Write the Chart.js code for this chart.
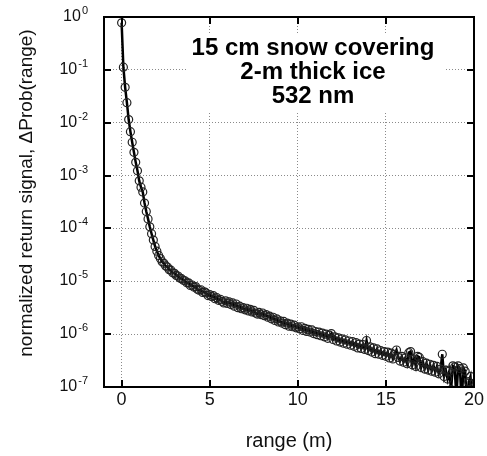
<!DOCTYPE html>
<html>
<head>
<meta charset="utf-8">
<title>return signal vs range</title>
<script src="https://cdn.jsdelivr.net/npm/chart.js@4/dist/chart.umd.min.js"></script>
<style>
  html, body { margin: 0; padding: 0; background: #fff; }
  #chart { display: block; }
</style>
</head>
<body>
<canvas id="chart" width="487" height="456"></canvas>
<script>
// range (m), one sample every 0.1 m
const range = [
  0.0, 0.1, 0.2, 0.3, 0.4, 0.5, 0.6, 0.7, 0.8, 0.9,
  1.0, 1.1, 1.2, 1.3, 1.4, 1.5, 1.6, 1.7, 1.8, 1.9,
  2.0, 2.1, 2.2, 2.3, 2.4, 2.5, 2.6, 2.7, 2.8, 2.9,
  3.0, 3.1, 3.2, 3.3, 3.4, 3.5, 3.6, 3.7, 3.8, 3.9,
  4.0, 4.1, 4.2, 4.3, 4.4, 4.5, 4.6, 4.7, 4.8, 4.9,
  5.0, 5.1, 5.2, 5.3, 5.4, 5.5, 5.6, 5.7, 5.8, 5.9,
  6.0, 6.1, 6.2, 6.3, 6.4, 6.5, 6.6, 6.7, 6.8, 6.9,
  7.0, 7.1, 7.2, 7.3, 7.4, 7.5, 7.6, 7.7, 7.8, 7.9,
  8.0, 8.1, 8.2, 8.3, 8.4, 8.5, 8.6, 8.7, 8.8, 8.9,
  9.0, 9.1, 9.2, 9.3, 9.4, 9.5, 9.6, 9.7, 9.8, 9.9,
  10.0, 10.1, 10.2, 10.3, 10.4, 10.5, 10.6, 10.7, 10.8, 10.9,
  11.0, 11.1, 11.2, 11.3, 11.4, 11.5, 11.6, 11.7, 11.8, 11.9,
  12.0, 12.1, 12.2, 12.3, 12.4, 12.5, 12.6, 12.7, 12.8, 12.9,
  13.0, 13.1, 13.2, 13.3, 13.4, 13.5, 13.6, 13.7, 13.8, 13.9,
  14.0, 14.1, 14.2, 14.3, 14.4, 14.5, 14.6, 14.7, 14.8, 14.9,
  15.0, 15.1, 15.2, 15.3, 15.4, 15.5, 15.6, 15.7, 15.8, 15.9,
  16.0, 16.1, 16.2, 16.3, 16.4, 16.5, 16.6, 16.7, 16.8, 16.9,
  17.0, 17.1, 17.2, 17.3, 17.4, 17.5, 17.6, 17.7, 17.8, 17.9,
  18.0, 18.1, 18.2, 18.3, 18.4, 18.5, 18.6, 18.7, 18.8, 18.9,
  19.0, 19.1, 19.2, 19.3, 19.4, 19.5, 19.6, 19.7, 19.8, 19.9,
  20.0
];

// log10 of the normalized return signal
const signalLog = [
  -0.11, -0.95, -1.33, -1.62, -1.94, -2.17, -2.37, -2.56, -2.75, -2.91,
  -3.10, -3.22, -3.31, -3.52, -3.68, -3.82, -3.97, -4.10, -4.22, -4.34,
  -4.43, -4.51, -4.57, -4.63, -4.66, -4.71, -4.73, -4.78, -4.79, -4.84,
  -4.85, -4.89, -4.90, -4.94, -4.95, -4.98, -4.99, -5.03, -5.03, -5.08,
  -5.07, -5.11, -5.10, -5.15, -5.17, -5.16, -5.21, -5.20, -5.22, -5.27,
  -5.25, -5.29, -5.27, -5.33, -5.31, -5.36, -5.34, -5.38, -5.41, -5.37,
  -5.42, -5.39, -5.44, -5.41, -5.47, -5.43, -5.50, -5.47, -5.52, -5.50,
  -5.54, -5.51, -5.56, -5.53, -5.58, -5.55, -5.60, -5.62, -5.59, -5.63,
  -5.60, -5.65, -5.63, -5.68, -5.66, -5.71, -5.68, -5.74, -5.71, -5.77,
  -5.75, -5.79, -5.76, -5.82, -5.79, -5.85, -5.81, -5.86, -5.83, -5.88,
  -5.86, -5.90, -5.86, -5.93, -5.89, -5.95, -5.91, -5.96, -5.92, -5.99,
  -5.95, -6.01, -5.96, -6.03, -5.98, -6.05, -6.00, -6.08, -6.02, -5.99,
  -6.10, -6.05, -6.13, -6.07, -6.15, -6.09, -6.17, -6.11, -6.19, -6.13,
  -6.21, -6.14, -6.23, -6.16, -6.26, -6.19, -6.27, -6.20, -6.29, -6.12,
  -6.31, -6.24, -6.34, -6.26, -6.37, -6.28, -6.38, -6.31, -6.40, -6.33,
  -6.42, -6.34, -6.45, -6.36, -6.47, -6.38, -6.30, -6.44, -6.51, -6.42,
  -6.53, -6.45, -6.56, -6.35, -6.33, -6.58, -6.47, -6.61, -6.42, -6.44,
  -6.63, -6.52, -6.66, -6.55, -6.68, -6.57, -6.70, -6.59, -6.72, -6.61,
  -6.75, -6.66, -6.38, -6.80, -6.68, -6.85, -6.70, -7.05, -6.60, -6.62,
  -7.20, -6.60, -6.65, -7.30, -6.64, -6.70, -7.40, -6.90, -6.80, -7.30,
  -6.93
];

const xTicks = [0, 5, 10, 15, 20];
const yExponents = [0, -1, -2, -3, -4, -5, -6, -7];
const titleLines = ['15 cm snow covering', '2-m thick ice', '532 nm'];

const FONT = '"Liberation Sans", Arial, Helvetica, sans-serif';

const points = range.map((r, i) => ({ x: r, y: Math.pow(10, signalLog[i]) }));

// frame, inward ticks, labels and the boxed title
const decorations = {
  id: 'decorations',
  beforeDatasetsDraw(chart) {
    const ctx = chart.ctx;
    // white box behind the title hides the grid
    ctx.save();
    ctx.fillStyle = '#fff';
    ctx.fillRect(186, 35, 259, 77);
    ctx.restore();
  },
  afterDraw(chart) {
    const ctx = chart.ctx;
    const a = chart.chartArea;
    const xs = chart.scales.x;
    const ys = chart.scales.y;
    ctx.save();

    // frame
    ctx.strokeStyle = '#000';
    ctx.lineWidth = 2;
    ctx.strokeRect(a.left, a.top, a.right - a.left, a.bottom - a.top);

    // ticks pointing in
    const len = 7;
    ctx.beginPath();
    xTicks.forEach(v => {
      const px = Math.round(xs.getPixelForValue(v));
      ctx.moveTo(px, a.bottom); ctx.lineTo(px, a.bottom - len);
      ctx.moveTo(px, a.top); ctx.lineTo(px, a.top + len);
    });
    yExponents.forEach(e => {
      const py = Math.round(ys.getPixelForValue(Math.pow(10, e)));
      ctx.moveTo(a.left, py); ctx.lineTo(a.left + len, py);
      ctx.moveTo(a.right, py); ctx.lineTo(a.right - len, py);
    });
    ctx.stroke();

    // x tick labels
    ctx.fillStyle = '#111';
    ctx.font = '18px ' + FONT;
    ctx.textAlign = 'center';
    ctx.textBaseline = 'alphabetic';
    xTicks.forEach(v => {
      ctx.fillText(String(v), xs.getPixelForValue(v), a.bottom + 18);
    });

    // y tick labels, 10 with a raised exponent
    const rightEdge = a.left - 16;
    yExponents.forEach(e => {
      const py = ys.getPixelForValue(Math.pow(10, e));
      const exp = String(e);
      ctx.font = '11px ' + FONT;
      const ew = ctx.measureText(exp).width;
      ctx.textAlign = 'left';
      ctx.fillText(exp, rightEdge - ew, py - 3);
      ctx.font = '16px ' + FONT;
      ctx.textAlign = 'right';
      ctx.fillText('10', rightEdge - ew - 1, py + 4);
    });

    // axis titles
    ctx.font = '20px ' + FONT;
    ctx.textAlign = 'center';
    ctx.fillText('range (m)', (a.left + a.right) / 2, 447);

    ctx.save();
    ctx.translate(32, 193);
    ctx.rotate(-Math.PI / 2);
    ctx.font = '19px ' + FONT;
    ctx.fillText('normalized return signal, \u0394Prob(range)', 0, 0);
    ctx.restore();

    // title inside the plot
    ctx.fillStyle = '#000';
    ctx.font = 'bold 24px ' + FONT;
    ctx.textAlign = 'center';
    titleLines.forEach((t, i) => {
      ctx.fillText(t, 313, 55 + i * 24);
    });

    ctx.restore();
  }
};

new Chart(document.getElementById('chart'), {
  type: 'line',
  data: {
    datasets: [{
      data: points,
      borderColor: '#000',
      borderWidth: 2.5,
      tension: 0,
      pointRadius: 4,
      pointBorderWidth: 1.2,
      pointBorderColor: '#222',
      pointBackgroundColor: 'rgba(0,0,0,0)',
      clip: 0
    }]
  },
  options: {
    responsive: false,
    animation: false,
    layout: { padding: { left: 104, top: 17, right: 13, bottom: 69 } },
    plugins: {
      legend: { display: false },
      tooltip: { enabled: false }
    },
    scales: {
      x: {
        type: 'linear',
        min: -1,
        max: 20,
        afterBuildTicks: s => { s.ticks = xTicks.map(v => ({ value: v })); },
        ticks: { display: false },
        grid: { color: '#8a8a8a', lineWidth: 1, drawTicks: false },
        border: { display: false, dash: [1, 2] }
      },
      y: {
        type: 'logarithmic',
        min: 1e-7,
        max: 1,
        afterBuildTicks: s => { s.ticks = yExponents.map(e => ({ value: Math.pow(10, e) })); },
        ticks: { display: false },
        grid: { color: '#8a8a8a', lineWidth: 1, drawTicks: false },
        border: { display: false, dash: [1, 2] }
      }
    }
  },
  plugins: [decorations]
});
</script>
</body>
</html>
